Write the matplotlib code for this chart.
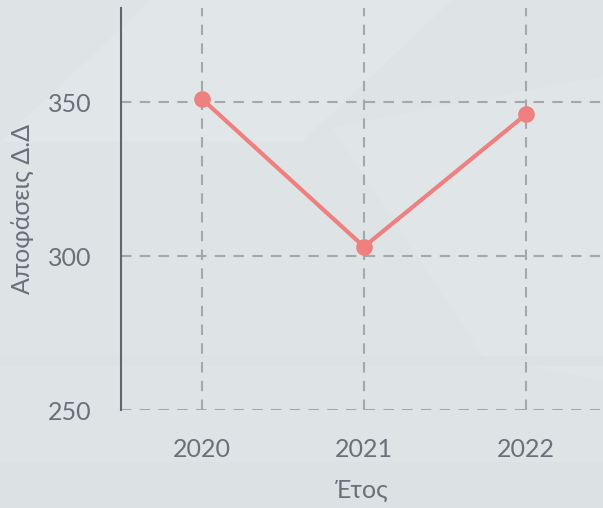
import matplotlib
matplotlib.use("Agg")
import matplotlib.pyplot as plt
from matplotlib.patches import Polygon

years = [2020, 2021, 2022]
decisions = [351, 303, 346]
yticks = [250, 300, 350]
xlabel = "Έτος"
ylabel = "Αποφάσεις Δ.Δ"

plt.rcParams['font.family'] = ['Lato', 'DejaVu Sans']

W, H = 603, 508
fig = plt.figure(figsize=(W / 100, H / 100), dpi=100)
fig.patch.set_facecolor('#dee4e6')

# subtle background shapes
bg = fig.add_axes([0, 0, 1, 1], zorder=-10)
bg.set_xlim(0, 1); bg.set_ylim(0, 1); bg.axis('off')
bg.add_patch(Polygon([[0.25, 1.0], [0.75, 1.0], [0.5, 0.72], [0.0, 0.72]], closed=True,
                     facecolor='#e1e7e9', edgecolor='none'))
bg.add_patch(Polygon([[0.55, 0.75], [1.0, 0.85], [1.0, 0.25], [0.8, 0.3]], closed=True,
                     facecolor='#e0e6e8', edgecolor='none'))
bg.add_patch(Polygon([[0.0, 0.3], [1.0, 0.3], [1.0, 0.28], [0.0, 0.28]], closed=True,
                     facecolor='#dce2e4', edgecolor='none'))
bg.add_patch(Polygon([[0.0, 0.0], [1.0, 0.0], [1.0, 0.09], [0.0, 0.09]], closed=True,
                     facecolor='#dce2e4', edgecolor='none'))

left, right, top, bottom = 121, 603, 8, 410
ax = fig.add_axes([left / W, 1 - bottom / H, (right - left) / W, (bottom - top) / H])
ax.patch.set_alpha(0)

ax.plot(years, decisions, color='#ef8080', lw=3, marker='o', ms=11, zorder=3,
        solid_capstyle='round')

step = 162
ax.set_xlim(2019.5, 2019.5 + (right - left) / step)
ax.set_ylim(250, 250 + 50 * (bottom - top) / 154)
ax.set_xticks(years)
ax.set_xticklabels([str(y) for y in years])
ax.set_yticks(yticks)

ax.grid(True, color='#a3a8ab', linestyle=(0, (5, 4)), lw=1.5)
for s in ['top', 'right', 'bottom']:
    ax.spines[s].set_visible(False)
ax.spines['left'].set_color('#5f666e')
ax.spines['left'].set_linewidth(1.5)

fs = 18
ax.tick_params(axis='y', length=0, pad=21, labelsize=fs, labelcolor='#6a7079')
ax.tick_params(axis='x', length=0, pad=20, labelsize=fs, labelcolor='#6a7079')
ax.set_xlabel(xlabel, fontsize=fs, color='#6a7079', labelpad=13)
ax.set_ylabel(ylabel, fontsize=fs, color='#6a7079', labelpad=10)

fig.savefig('out.png', dpi=100, facecolor=fig.get_facecolor())
